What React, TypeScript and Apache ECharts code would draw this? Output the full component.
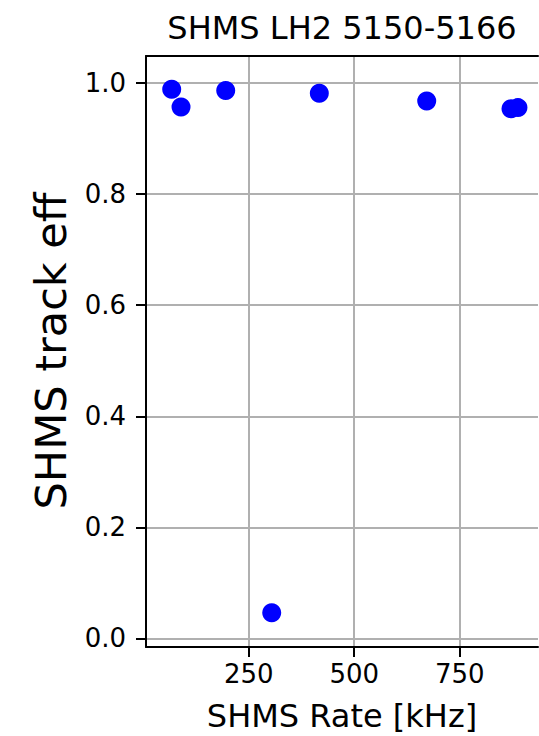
import React, { useEffect, useRef } from "react";
import * as echarts from "echarts";

const rateKHz = [67.5, 89.6, 195.5, 304.5, 417.3, 671.8, 871.5, 888];
const trackEff = [0.989, 0.957, 0.987, 0.046, 0.982, 0.968, 0.954, 0.956];
const xTickValues = [250, 500, 750];
const yTickValues = [0, 0.2, 0.4, 0.6, 0.8, 1.0];
const titleText = "SHMS LH2 5150-5166";
const xLabel = "SHMS Rate [kHz]";
const yLabel = "SHMS track eff";

const FONT = "DejaVu Sans";

export default function App() {
  const ref = useRef<HTMLDivElement>(null);
  useEffect(() => {
    if (!ref.current) return;
    const chart = echarts.init(ref.current, null, { renderer: "svg" });
    const points = rateKHz.map((x, i) => [x, trackEff[i]]);
    const gridColor = "#b0b0b0";
    chart.setOption({
      animation: false,
      backgroundColor: "#ffffff",
      grid: { left: 146, top: 56, right: 1, bottom: 89, containLabel: false },
      xAxis: [
        {
          type: "value",
          min: 6.6,
          max: 935.5,
          axisLine: { show: true, onZero: false, lineStyle: { color: "#000", width: 2 } },
          axisTick: { show: true, length: 10, lineStyle: { color: "#000", width: 2 }, customValues: xTickValues },
          axisLabel: {
            customValues: xTickValues,
            color: "#000",
            fontFamily: FONT,
            fontSize: 26,
            margin: 14,
            formatter: (v: number) => String(Math.round(v)),
          },
          splitLine: { show: true, lineStyle: { color: gridColor, width: 2 } },
        },
        {
          type: "value",
          position: "top",
          min: 6.6,
          max: 935.5,
          axisLine: { show: true, onZero: false, lineStyle: { color: "#000", width: 2 } },
          axisTick: { show: false },
          axisLabel: { show: false },
          splitLine: { show: false },
        },
      ],
      yAxis: {
        type: "value",
        min: -0.0157,
        max: 1.049,
        axisLine: { show: true, onZero: false, lineStyle: { color: "#000", width: 2 } },
        axisTick: { show: true, length: 10, lineStyle: { color: "#000", width: 2 }, customValues: yTickValues },
        axisLabel: {
          customValues: yTickValues,
          color: "#000",
          fontFamily: FONT,
          fontSize: 26,
          margin: 20,
          formatter: (v: number) => v.toFixed(1),
        },
        splitLine: { show: true, lineStyle: { color: gridColor, width: 2 } },
      },
      series: [
        {
          type: "scatter",
          xAxisIndex: 0,
          data: points,
          symbol: "circle",
          symbolSize: 19,
          itemStyle: { color: "#0000ff", opacity: 1 },
        },
      ],
      graphic: [
        {
          type: "text",
          x: 342,
          y: 28,
          style: {
            text: titleText,
            fontFamily: FONT,
            fontSize: 32,
            fill: "#000",
            textAlign: "center",
            textVerticalAlign: "middle",
          },
        },
        {
          type: "text",
          x: 342,
          y: 716,
          style: {
            text: xLabel,
            fontFamily: FONT,
            fontSize: 32,
            fill: "#000",
            textAlign: "center",
            textVerticalAlign: "middle",
          },
        },
        {
          type: "text",
          x: 51,
          y: 351,
          rotation: Math.PI / 2,
          style: {
            text: yLabel,
            fontFamily: FONT,
            fontSize: 43,
            fill: "#000",
            textAlign: "center",
            textVerticalAlign: "middle",
          },
        },
      ],
    });
    return () => chart.dispose();
  }, []);
  return (
    <div
      ref={ref}
      style={{ position: "fixed", left: 0, top: 0, width: 539, height: 736, background: "#fff" }}
    />
  );
}
